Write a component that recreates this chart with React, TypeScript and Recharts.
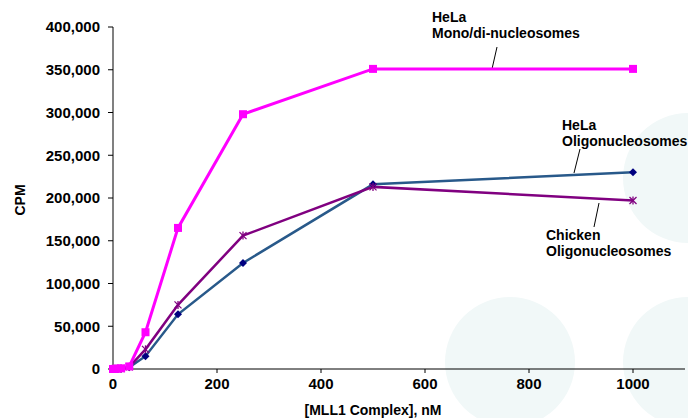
import React from 'react';
import {
  LineChart,
  Line,
  XAxis,
  YAxis,
  Customized,
} from 'recharts';

// MLL1 complex concentration (nM), two-fold dilution series
const concentrations = [0, 3.9, 7.8, 15.6, 31.25, 62.5, 125, 250, 500, 1000];
const helaMonoDi = [0, 200, 400, 800, 3000, 43000, 165000, 298000, 351000, 351000];
const helaOligo = [0, 100, 200, 400, 2000, 15000, 64000, 124000, 216000, 230000];
const chickenOligo = [0, 150, 300, 600, 2500, 23000, 75000, 156000, 213000, 197000];

const xTicks = [0, 200, 400, 600, 800, 1000];
const yTicks = [0, 50000, 100000, 150000, 200000, 250000, 300000, 350000, 400000];

const data = concentrations.map((c, i) => ({
  conc: c,
  monoDi: helaMonoDi[i],
  oligo: helaOligo[i],
  chicken: chickenOligo[i],
}));

const FONT = '"Liberation Sans", Arial, sans-serif';
const PINK = '#ff00ff';
const BLUE = '#28598a';
const NAVY = '#000080';
const PURPLE = '#800080';

const SquareDot = (props: any) => {
  const { cx, cy } = props;
  if (cx == null || cy == null) return null;
  return <rect x={cx - 4} y={cy - 4} width={8} height={8} fill={PINK} />;
};

const DiamondDot = (props: any) => {
  const { cx, cy } = props;
  if (cx == null || cy == null) return null;
  return (
    <polygon
      points={`${cx},${cy - 4} ${cx + 4},${cy} ${cx},${cy + 4} ${cx - 4},${cy}`}
      fill={NAVY}
    />
  );
};

const StarDot = (props: any) => {
  const { cx, cy } = props;
  if (cx == null || cy == null) return null;
  return (
    <g stroke={PURPLE} strokeWidth={1.3}>
      <line x1={cx - 3.5} y1={cy - 3.5} x2={cx + 3.5} y2={cy + 3.5} />
      <line x1={cx - 3.5} y1={cy + 3.5} x2={cx + 3.5} y2={cy - 3.5} />
      <line x1={cx} y1={cy - 4} x2={cx} y2={cy + 4} />
    </g>
  );
};

// callout labels and axis title
const Annotations = () => (
  <g fontFamily={FONT} fontWeight="bold" fontSize={14} fill="#000">
    <text x={20} y={200} textAnchor="middle" dominantBaseline="central" transform="rotate(-90 20 200)">
      CPM
    </text>
    <text x={432} y={22}>HeLa</text>
    <text x={432} y={38}>Mono/di-nucleosomes</text>
    <line x1={497} y1={47} x2={492} y2={69} stroke="#000" strokeWidth={1} />

    <text x={562} y={130}>HeLa</text>
    <text x={562} y={146}>Oligonucleosomes</text>
    <line x1={580} y1={149} x2={574} y2={173} stroke="#000" strokeWidth={1} />

    <text x={546} y={240}>Chicken</text>
    <text x={546} y={256}>Oligonucleosomes</text>
    <line x1={599} y1={203} x2={594} y2={227} stroke="#000" strokeWidth={1} />
  </g>
);

const circles = [
  { left: 510, top: 362 },
  { left: 688, top: 362 },
  { left: 688, top: 178 },
];

export default function App() {
  return (
    <div
      style={{
        position: 'absolute',
        left: 0,
        top: 0,
        width: 688,
        height: 418,
        overflow: 'hidden',
        background: '#fff',
      }}
    >
      {circles.map((c, i) => (
        <div
          key={i}
          style={{
            position: 'absolute',
            left: c.left - 65,
            top: c.top - 65,
            width: 130,
            height: 130,
            borderRadius: '50%',
            background: '#f1f8f8',
          }}
        />
      ))}
      <div style={{ position: 'absolute', left: 0, top: 0 }}>
        <LineChart
          width={688}
          height={418}
          data={data}
          margin={{ top: 27, right: 3, bottom: 0, left: 0 }}
        >
          <XAxis
            dataKey="conc"
            type="number"
            domain={[0, 1100]}
            ticks={xTicks}
            tickSize={4}
            tickMargin={5}
            height={49}
            axisLine={{ stroke: '#000', strokeWidth: 1 }}
            tickLine={{ stroke: '#000' }}
            tick={{ fill: '#000', fontSize: 15, fontWeight: 'bold', fontFamily: FONT }}
            label={{
              value: '[MLL1 Complex], nM',
              position: 'insideBottom',
              offset: 3,
              dx: -26,
              fill: '#000',
              fontSize: 14,
              fontWeight: 'bold',
              fontFamily: FONT,
            }}
          />
          <YAxis
            type="number"
            domain={[0, 400000]}
            ticks={yTicks}
            width={113}
            tickSize={5}
            tickMargin={8}
            axisLine={{ stroke: '#808080', strokeWidth: 2 }}
            tickLine={{ stroke: '#000' }}
            tickFormatter={(v: number) => v.toLocaleString('en-US')}
            tick={{ fill: '#000', fontSize: 15, fontWeight: 'bold', fontFamily: FONT }}
          />
          <Line
            dataKey="oligo"
            stroke={BLUE}
            strokeWidth={2.5}
            dot={<DiamondDot />}
            activeDot={false}
            isAnimationActive={false}
          />
          <Line
            dataKey="chicken"
            stroke={PURPLE}
            strokeWidth={2.5}
            dot={<StarDot />}
            activeDot={false}
            isAnimationActive={false}
          />
          <Line
            dataKey="monoDi"
            stroke={PINK}
            strokeWidth={3}
            dot={<SquareDot />}
            activeDot={false}
            isAnimationActive={false}
          />
          <Customized component={<Annotations />} />
        </LineChart>
      </div>
    </div>
  );
}
